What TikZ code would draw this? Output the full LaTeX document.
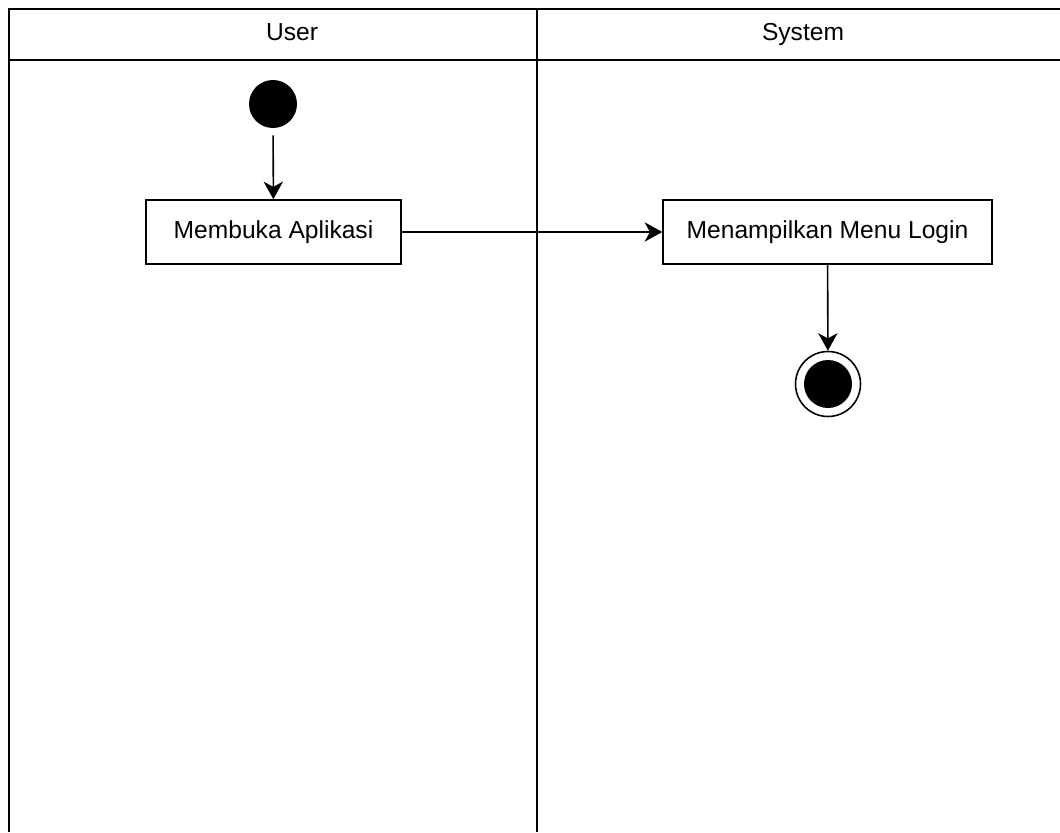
\documentclass[tikz,border=0pt]{standalone}
\usepackage{fontspec}
\setmainfont{Liberation Sans}
\usetikzlibrary{arrows.meta}
\tikzset{
    lane/.style={line width=1.1pt},
    lanetitle/.style={font=\fontsize{14}{16}\selectfont, text height=1.6ex, text depth=0.4ex},
    action/.style={draw, line width=0.9pt, minimum height=1.28cm, font=\fontsize{14}{16}\selectfont, text height=1.6ex, text depth=0.2ex, inner sep=0pt},
    flow/.style={line width=0.9pt, -{Stealth[length=10pt,width=11pt,inset=3pt]}},
}
\begin{document}
\begin{tikzpicture}[x=0.02cm,y=-0.02cm]
    % BOUNDING BOX
    \useasboundingbox (0,0) rectangle (1060,832);

    % SWIMLANES
    \draw[lane] (1060,9) -- (9,9) -- (9,832);
    \draw[lane] (9,60) -- (1060,60);
    \draw[lane] (537,9) -- (537,832);
    \node[lanetitle] (user) at (292,35) {User};
    \node[lanetitle] (system) at (803,35) {System};

    % START AND END
    \node[circle, fill=black, minimum size=0.96cm, inner sep=0pt] (start) at (273,104) {};
    \node[circle, draw, line width=0.9pt, minimum size=1.3cm, inner sep=0pt] (end) at (828,384) {};
    \node[circle, fill=black, minimum size=0.96cm, inner sep=0pt] (endin) at (end.center) {};

    % ACTIONS
    \node[action, minimum width=5.1cm] (buka) at (273.5,232) {Membuka Aplikasi};
    \node[action, minimum width=6.58cm] (menu) at (827.5,232) {Menampilkan Menu Login};

    % FLOWS
    \draw[flow, shorten <=0.14cm] (start) -- (buka);
    \draw[flow] (buka) -- (menu);
    \draw[flow] (menu) -- (end);

\end{tikzpicture}
\end{document}
